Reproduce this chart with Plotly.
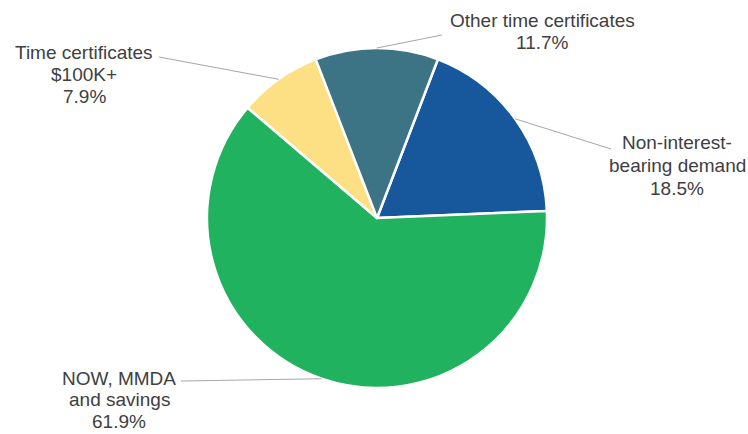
import math
import plotly.graph_objects as go

# Deposit mix, clockwise from the first slice
categories = [
    "Non-interest-bearing demand",
    "NOW, MMDA and savings",
    "Time certificates $100K+",
    "Other time certificates",
]
shares = [18.5, 61.9, 7.9, 11.7]
colors = ["#17589d", "#21b25f", "#fde084", "#3c7485"]

# Text shown beside each slice (one entry per line)
label_lines = [
    ["Non-interest-", "bearing demand"],
    ["NOW, MMDA", "and savings"],
    ["Time certificates", "$100K+"],
    ["Other time certificates"],
]

# Canvas and pie geometry (pixels)
W, H = 748, 434
CX, CY, R = 377, 218, 170
START_ANGLE = 21  # degrees clockwise from 12 o'clock

# Label block placement: centre x, first-line y, line gap, leader-line end point
label_pos = [
    dict(x=677, y=143, gap=22.5, end=(611, 149)),
    dict(x=119, y=378, gap=21.5, end=(181, 381)),
    dict(x=84, y=52, gap=22.5, end=(159, 57)),
    dict(x=542, y=21, gap=22.0, end=(442, 35)),
]


def px_to_paper(x, y):
    return x / W, 1 - y / H


fig = go.Figure(
    go.Pie(
        labels=categories,
        values=shares,
        sort=False,
        direction="clockwise",
        rotation=START_ANGLE,
        marker=dict(colors=colors, line=dict(color="white", width=2.5)),
        textinfo="none",
        hoverinfo="label+percent",
        showlegend=False,
        domain=dict(
            x=[(CX - R) / W, (CX + R) / W],
            y=[(H - CY - R) / H, (H - CY + R) / H],
        ),
    )
)

shapes = []
annotations = []
total = sum(shares)
cum = 0.0
for name, val, lines, pos in zip(categories, shares, label_lines, label_pos):
    mid = math.radians(START_ANGLE + 360 * (cum + val / 2) / total)
    cum += val
    ex, ey = CX + R * math.sin(mid), CY - R * math.cos(mid)
    x0, y0 = px_to_paper(ex, ey)
    x1, y1 = px_to_paper(*pos["end"])
    shapes.append(
        dict(type="line", xref="paper", yref="paper", x0=x0, y0=y0, x1=x1, y1=y1,
             line=dict(color="#a6a6a6", width=1))
    )
    texts = lines + [f"{val:.1f}%"]
    for i, t in enumerate(texts):
        ax, ay = px_to_paper(pos["x"], pos["y"] + i * pos["gap"])
        annotations.append(
            dict(text=t, x=ax, y=ay, xref="paper", yref="paper", showarrow=False,
                 xanchor="center", yanchor="middle", borderpad=0,
                 font=dict(family="Liberation Sans, Arial, sans-serif", size=19, color="#404040"))
        )

fig.update_layout(
    width=W,
    height=H,
    margin=dict(l=0, r=0, t=0, b=0),
    paper_bgcolor="white",
    plot_bgcolor="white",
    shapes=shapes,
    annotations=annotations,
)

fig.write_html("out.html")
